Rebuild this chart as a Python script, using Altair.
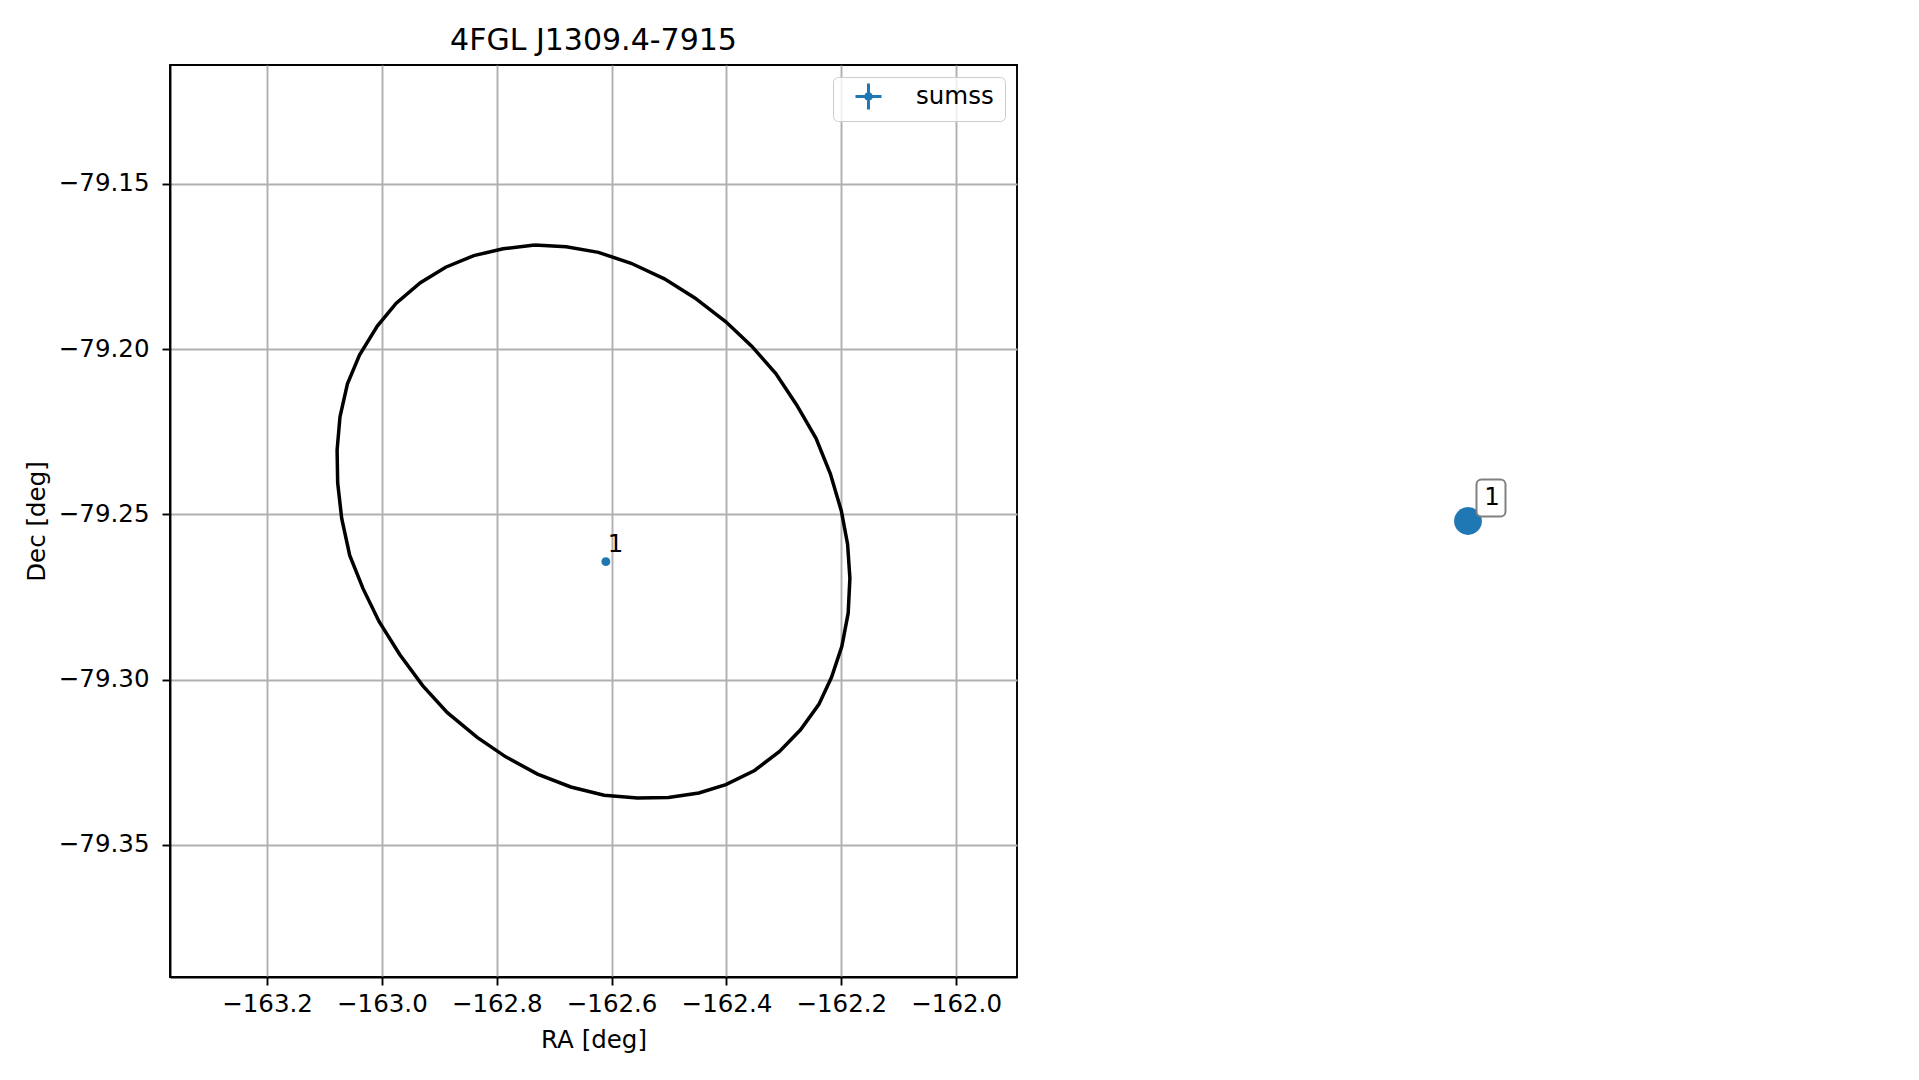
import altair as alt
import pandas as pd

TITLE = "4FGL J1309.4-7915"

# error ellipse (RA, Dec in deg)
ell_ra = [-162.734, -162.679, -162.623, -162.566, -162.508, -162.455, -162.401, -162.356,
          -162.314, -162.278, -162.244, -162.219, -162.200, -162.189, -162.185, -162.188,
          -162.199, -162.217, -162.239, -162.271, -162.308, -162.351, -162.401, -162.448,
          -162.501, -162.555, -162.613, -162.671, -162.729, -162.785, -162.834, -162.886,
          -162.929, -162.969, -163.005, -163.033, -163.056, -163.070, -163.077, -163.078,
          -163.073, -163.060, -163.039, -163.008, -162.975, -162.933, -162.889, -162.840,
          -162.789, -162.734]
ell_dec = [-79.1685, -79.1690, -79.1707, -79.1740, -79.1787, -79.1845, -79.1917, -79.1991,
           -79.2074, -79.2168, -79.2270, -79.2377, -79.2489, -79.2590, -79.2693, -79.2799,
           -79.2899, -79.2993, -79.3075, -79.3152, -79.3218, -79.3275, -79.3318, -79.3343,
           -79.3357, -79.3358, -79.3350, -79.3325, -79.3286, -79.3233, -79.3175, -79.3100,
           -79.3018, -79.2924, -79.2824, -79.2724, -79.2624, -79.2512, -79.2405, -79.2305,
           -79.2205, -79.2105, -79.2018, -79.1930, -79.1861, -79.1799, -79.1752, -79.1717,
           -79.1696, -79.1685]

# sources
src_id = ["1"]
src_ra = [-162.610]
src_dec = [-79.2643]
src_cat = ["sumss"]

# right-hand panel (relative position)
side_x = [0.5]
side_y = [0.5]

x_ticks = [-163.2, -163.0, -162.8, -162.6, -162.4, -162.2, -162.0]
y_ticks = [-79.35, -79.30, -79.25, -79.20, -79.15]
x_domain = [-163.369, -161.894]
y_domain = [-79.390, -79.114]

FONT = "DejaVu Sans"
BLUE = "#1f77b4"
FS = 24.5

ell_df = pd.DataFrame({"ra": ell_ra, "dec": ell_dec, "order": list(range(len(ell_ra)))})
src_df = pd.DataFrame({"id": src_id, "ra": src_ra, "dec": src_dec, "catalog": src_cat})
side_df = pd.DataFrame({"id": src_id, "px": side_x, "py": side_y})

axis_common = dict(
    tickSize=8, tickWidth=1.9, tickColor="black",
    labelFont=FONT, labelFontSize=FS, labelColor="black",
    titleFont=FONT, titleFontSize=FS, titleFontWeight="normal", titleColor="black",
    gridColor="#b0b0b0", gridWidth=1.9, grid=True,
    domainColor="black", domainWidth=1.9,
)

x_enc = alt.X("ra:Q", scale=alt.Scale(domain=x_domain, nice=False, zero=False),
              axis=alt.Axis(title="RA [deg]", values=x_ticks, format=".1f",
                            labelExpr="replace(datum.label, '-', '\u2212')",
                            labelPadding=7, titlePadding=13, **axis_common))
y_enc = alt.Y("dec:Q", scale=alt.Scale(domain=y_domain, nice=False, zero=False),
              axis=alt.Axis(title="Dec [deg]", values=y_ticks, format=".2f",
                            labelExpr="replace(datum.label, '-', '\u2212')",
                            labelPadding=13, titlePadding=9, **axis_common))

ellipse = alt.Chart(ell_df).mark_line(color="black", strokeWidth=3.5).encode(
    x=x_enc, y=y_enc, order="order:Q")

points = alt.Chart(src_df).mark_circle(size=80, opacity=1).encode(
    x=x_enc, y=y_enc,
    color=alt.Color("catalog:N", scale=alt.Scale(domain=src_cat, range=[BLUE]),
                    legend=alt.Legend(
                        title="\u00a0", titleOrient="right", titleFontSize=4,
                        titlePadding=6, titleColor="white",
                        orient="top-right", offset=12,
                        symbolType="M-1,0L1,0M0,-1L0,1M-0.22,0A0.22,0.22,0,1,0,0.22,0A0.22,0.22,0,1,0,-0.22,0Z",
                        symbolSize=676, symbolStrokeWidth=3, symbolStrokeColor=BLUE,
                        symbolFillColor=BLUE, symbolOpacity=1,
                        labelFont=FONT, labelFontSize=FS, labelColor="black",
                        padding=5, symbolOffset=16, labelOffset=33,
                        fillColor="rgba(255,255,255,0.8)", strokeColor="#cccccc",
                        cornerRadius=5)))

labels = alt.Chart(src_df).mark_text(align="left", baseline="alphabetic", dx=2, dy=-10,
                                     font=FONT, fontSize=FS, color="black").encode(
    x=x_enc, y=y_enc, text="id:N")

left = alt.layer(ellipse, points, labels).properties(
    width=847, height=912,
    title=alt.TitleParams(TITLE, font=FONT, fontSize=30, fontWeight="normal",
                          color="black", anchor="middle", baseline="bottom", offset=-21),
    view=alt.ViewBackground(stroke="black", strokeWidth=1.9),
)

bx = alt.X("px:Q", scale=alt.Scale(domain=[0, 1], nice=False, zero=False), axis=None)
by = alt.Y("py:Q", scale=alt.Scale(domain=[0, 1], nice=False, zero=False), axis=None)
rbase = alt.Chart(side_df).encode(x=bx, y=by)
dot = rbase.mark_circle(size=774, color=BLUE, opacity=1)
box = rbase.mark_rect(width=29, height=37, cornerRadius=5, fill="white", stroke="#808080",
                      strokeWidth=2, xOffset=23, yOffset=-23)
blab = rbase.mark_text(align="center", baseline="middle", dx=24, dy=-23, font=FONT,
                       fontSize=FS, color="black").encode(text="id:N")
right = alt.layer(dot, box, blab).properties(
    width=862, height=912,
    view=alt.ViewBackground(stroke="transparent"),
)

chart = alt.hconcat(left, right, spacing=20, bounds="flush").resolve_legend(
    color="independent").properties(
    padding={"left": 15, "top": 17, "right": 5, "bottom": 5},
    background="white",
)

chart.save("out.html", embed_options={"renderer": "svg", "actions": False})
